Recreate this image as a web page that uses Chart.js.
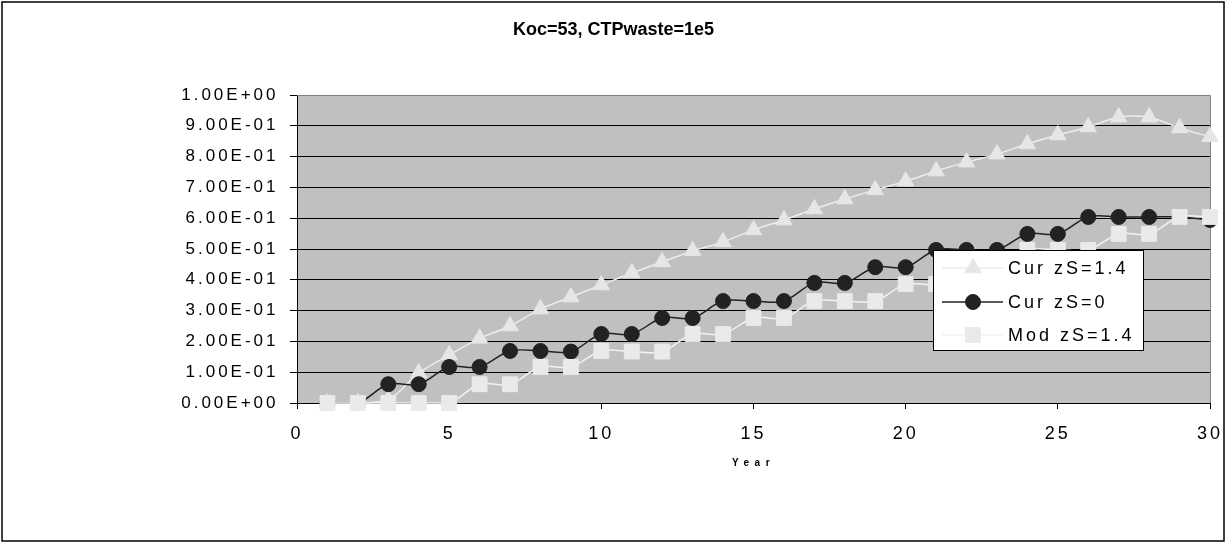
<!DOCTYPE html>
<html><head><meta charset="utf-8">
<script src="https://cdn.jsdelivr.net/npm/chart.js@4.4.1/dist/chart.umd.min.js"></script>
<style>html,body{margin:0;padding:0;background:#fff;}canvas{display:block;}</style>
</head><body>
<canvas id="c" width="1227" height="542"></canvas>
<script>
// ---- data ----
const years = [1,2,3,4,5,6,7,8,9,10,11,12,13,14,15,16,17,18,19,20,21,22,23,24,25,26,27,28,29,30];
const curZS14 = [0,0,0.01,0.097,0.156,0.21,0.25,0.305,0.344,0.383,0.422,0.458,0.494,0.523,0.562,0.594,0.63,0.662,0.692,0.72,0.753,0.782,0.808,0.841,0.87,0.896,0.928,0.928,0.893,0.864];
const curZS0 = [0,0,0.061,0.061,0.117,0.117,0.169,0.169,0.167,0.224,0.224,0.276,0.276,0.331,0.331,0.331,0.39,0.39,0.441,0.441,0.497,0.497,0.497,0.549,0.549,0.604,0.604,0.604,0.604,0.594];
const modZS14 = [0,0,0,0,0,0.061,0.061,0.117,0.117,0.169,0.167,0.167,0.224,0.224,0.276,0.276,0.331,0.331,0.331,0.386,0.386,0.441,0.441,0.497,0.497,0.497,0.549,0.549,0.604,0.604];
const seriesNames = ['Cur zS=1.4','Cur zS=0','Mod zS=1.4'];
const xTickValues = [0,5,10,15,20,25,30];
const yTickLabels = ['0.00E+00','1.00E-01','2.00E-01','3.00E-01','4.00E-01','5.00E-01','6.00E-01','7.00E-01','8.00E-01','9.00E-01','1.00E+00'];
const chartTitle = 'Koc=53, CTPwaste=1e5';
const xTitle = 'Year';

const FAMILY = '"Liberation Sans", Arial, sans-serif';

// letter spacing per font (the reference uses widely spaced glyphs)
function spacingFor(ctx){
  if (ctx.__force) return ctx.__force;
  const font = ctx.font;
  if (/bold/.test(font) && /(^|\s)10px/.test(font)) return '5.5px';
  if (/bold/.test(font)) return '0px';
  return '3px';
}
function patchCtx(ctx){
  if (ctx.__sp) return; ctx.__sp = true;
  const f = ctx.fillText, m = ctx.measureText;
  ctx.fillText = function(t,x,y,w){ this.letterSpacing = spacingFor(this); return (w === undefined) ? f.call(this,t,x,y) : f.call(this,t,x,y,w); };
  ctx.measureText = function(t){ this.letterSpacing = spacingFor(this); return m.call(this,t); };
}
const spacingPlugin = { id:'spacing', beforeInit(chart){ patchCtx(chart.ctx); } };

const bgPlugin = {
  id:'bg',
  beforeDraw(chart){
    const {ctx, chartArea:a} = chart;
    ctx.save();
    ctx.fillStyle = '#fff'; ctx.fillRect(0,0,chart.width,chart.height);
    ctx.fillStyle = '#C0C0C0';
    ctx.fillRect(a.left, a.top, a.right-a.left, a.bottom-a.top);
    ctx.strokeStyle = '#000'; ctx.lineWidth = 1.5;
    ctx.strokeRect(2, 2, 1222, 539);
    ctx.restore();
  },
  beforeDatasetsDraw(chart){
    const {ctx, chartArea:a} = chart;
    ctx.save();
    ctx.strokeStyle = '#808080'; ctx.lineWidth = 1;
    ctx.beginPath();
    ctx.moveTo(a.left, a.top+0.5); ctx.lineTo(a.right+0.5, a.top+0.5); ctx.lineTo(a.right+0.5, a.bottom);
    ctx.stroke();
    ctx.restore();
  }
};

const legendPlugin = {
  id:'boxLegend',
  afterDraw(chart){
    const ctx = chart.ctx;
    ctx.save();
    ctx.fillStyle = '#fff'; ctx.fillRect(933.5, 250.5, 210, 100);
    ctx.strokeStyle = '#000'; ctx.lineWidth = 1; ctx.strokeRect(933.5, 250.5, 210, 100);
    const rows = [268, 302, 335];
    chart.data.datasets.forEach((ds, i) => {
      const y = rows[i];
      ctx.strokeStyle = ds.borderColor; ctx.lineWidth = ds.borderWidth;
      ctx.beginPath(); ctx.moveTo(942, y); ctx.lineTo(1003, y); ctx.stroke();
      ctx.fillStyle = ds.pointBackgroundColor; ctx.strokeStyle = ds.pointBorderColor; ctx.lineWidth = 1;
      Chart.helpers.drawPoint(ctx, {pointStyle: ds.pointStyle, radius: ds.pointRadius, borderWidth: 1, rotation: 0}, 973, y);
      ctx.fillStyle = '#000';
      ctx.font = '18px ' + FAMILY;
      ctx.textAlign = 'left'; ctx.textBaseline = 'middle';
      ctx.__force = '3px';
      ctx.fillText(ds.label, 1008, y + 1);
      ctx.__force = null;
    });
    ctx.restore();
  }
};

function pts(arr){ return years.map((x,i) => ({x, y: arr[i]})); }

new Chart(document.getElementById('c'), {
  type: 'line',
  data: {
    datasets: [
      { label: seriesNames[0], data: pts(curZS14), order: 3,
        borderColor: '#EDEDED', borderWidth: 1.5, tension: 0.35,
        pointStyle: 'triangle', pointRadius: 9.5, pointBackgroundColor: '#E6E6E6', pointBorderColor: '#E6E6E6', pointBorderWidth: 1, clip: false },
      { label: seriesNames[1], data: pts(curZS0), order: 2,
        borderColor: '#222222', borderWidth: 1.5, tension: 0.35,
        pointStyle: 'circle', pointRadius: 7.5, pointBackgroundColor: '#222222', pointBorderColor: '#222222', pointBorderWidth: 1, clip: false },
      { label: seriesNames[2], data: pts(modZS14), order: 1,
        borderColor: '#F2F2F2', borderWidth: 1.5, tension: 0.35,
        pointStyle: 'rect', pointRadius: 10.5, pointBackgroundColor: '#EAEAEA', pointBorderColor: '#EAEAEA', pointBorderWidth: 1, clip: false }
    ]
  },
  options: {
    responsive: false, animation: false, devicePixelRatio: 1,
    layout: { padding: { top: 0, right: 0, bottom: 64, left: 0 } },
    plugins: {
      legend: { display: false },
      tooltip: { enabled: false },
      title: { display: true, text: chartTitle, color: '#000',
               font: { family: FAMILY, size: 18, weight: 'bold', lineHeight: 1.2 },
               padding: { top: 19.7, bottom: 53.7 } }
    },
    scales: {
      x: {
        type: 'linear', min: 0, max: 30,
        afterFit(s){ s.height = 75; s.paddingRight = 17; },
        ticks: { stepSize: 5, autoSkip: false, maxRotation: 0, padding: 14, color: '#000',
                 font: { family: FAMILY, size: 18 },
                 callback: v => xTickValues.includes(v) ? String(v) : '' },
        grid: { display: true, drawOnChartArea: false, drawTicks: true, tickLength: 6, color: '#000', lineWidth: 1 },
        border: { display: true, color: '#000', width: 1 },
        title: { display: true, text: xTitle, color: '#000',
                 font: { family: FAMILY, size: 10, weight: 'bold', lineHeight: 1.2 },
                 padding: { top: 0, bottom: 9 } }
      },
      y: {
        type: 'linear', min: 0, max: 1,
        afterFit(s){ s.width = 297; },
        ticks: { stepSize: 0.1, autoSkip: false, padding: 11.5, color: '#000',
                 font: { family: FAMILY, size: 17 },
                 callback: v => yTickLabels[Math.round(v * 10)] },
        grid: { color: c => (c.tick && Math.abs(c.tick.value - 1) < 1e-9) ? '#808080' : '#000',
                tickColor: '#000', tickLength: 7, lineWidth: 1 },
        border: { display: true, color: '#000', width: 1 }
      }
    }
  },
  plugins: [spacingPlugin, bgPlugin, legendPlugin]
});
</script>
</body></html>
